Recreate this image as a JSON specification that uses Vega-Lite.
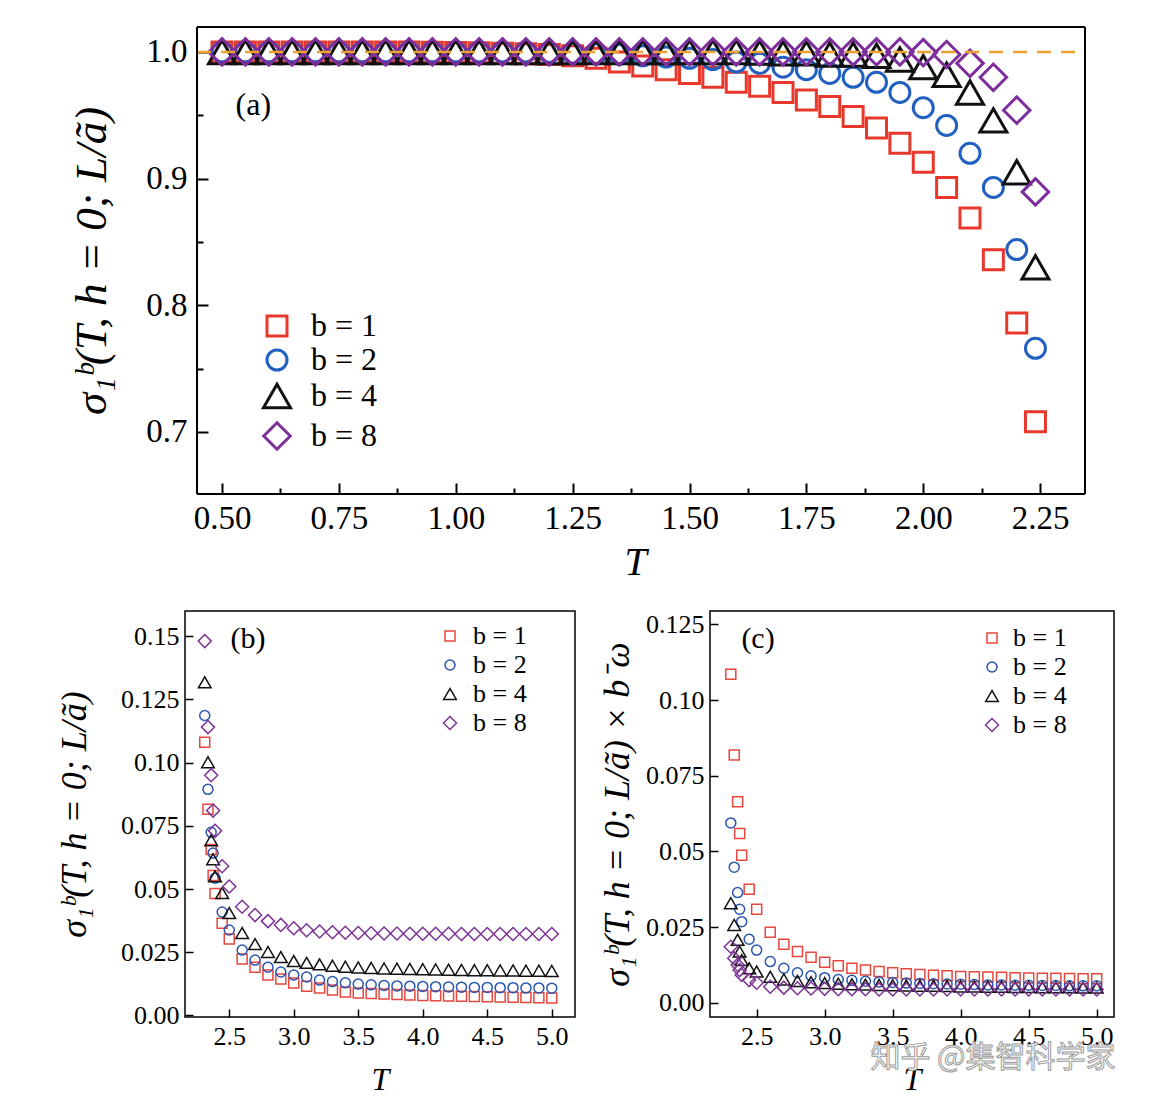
{
"$schema": "https://vega.github.io/schema/vega-lite/v6.json",
"background": "white",
"padding": {"left": 55, "top": 26, "right": 0, "bottom": 0},
"columns": 1,
"align": "none",
"spacing": 28,
"resolve": {"scale": {"color": "independent", "shape": "independent", "size": "independent"}, "legend": {"color": "independent", "shape": "independent", "size": "independent"}},
"config": {
  "axis": {"labelFont": "Liberation Serif", "titleFont": "Liberation Serif", "titleFontStyle": "italic", "titleFontWeight": "normal", "labelColor": "black", "titleColor": "black", "tickColor": "black", "domain": false, "grid": false, "labelFlush": false, "labelOverlap": false},
  "legend": {"labelFont": "Liberation Serif", "labelColor": "black", "title": null, "padding": 0}
},
"datasets": {
"a": [
{"T":0.5,"b":1,"s":1},{"T":0.55,"b":1,"s":1},{"T":0.6,"b":1,"s":1},{"T":0.65,"b":1,"s":1},{"T":0.7,"b":1,"s":1},{"T":0.75,"b":1,"s":1},{"T":0.8,"b":1,"s":1},{"T":0.85,"b":1,"s":1},{"T":0.9,"b":1,"s":1},{"T":0.95,"b":1,"s":0.9998},{"T":1.0,"b":1,"s":0.9996},{"T":1.05,"b":1,"s":0.9993},{"T":1.1,"b":1,"s":0.999},{"T":1.15,"b":1,"s":0.9985},{"T":1.2,"b":1,"s":0.998},{"T":1.25,"b":1,"s":0.997},{"T":1.3,"b":1,"s":0.995},{"T":1.35,"b":1,"s":0.992},{"T":1.4,"b":1,"s":0.989},{"T":1.45,"b":1,"s":0.986},{"T":1.5,"b":1,"s":0.983},{"T":1.55,"b":1,"s":0.98},{"T":1.6,"b":1,"s":0.976},{"T":1.65,"b":1,"s":0.973},{"T":1.7,"b":1,"s":0.968},{"T":1.75,"b":1,"s":0.962},{"T":1.8,"b":1,"s":0.957},{"T":1.85,"b":1,"s":0.949},{"T":1.9,"b":1,"s":0.94},{"T":1.95,"b":1,"s":0.928},{"T":2.0,"b":1,"s":0.913},{"T":2.05,"b":1,"s":0.893},{"T":2.1,"b":1,"s":0.869},{"T":2.15,"b":1,"s":0.836},{"T":2.2,"b":1,"s":0.786},{"T":2.24,"b":1,"s":0.708},
{"T":0.5,"b":2,"s":1},{"T":0.55,"b":2,"s":1},{"T":0.6,"b":2,"s":1},{"T":0.65,"b":2,"s":1},{"T":0.7,"b":2,"s":1},{"T":0.75,"b":2,"s":1},{"T":0.8,"b":2,"s":1},{"T":0.85,"b":2,"s":1},{"T":0.9,"b":2,"s":1},{"T":0.95,"b":2,"s":1},{"T":1.0,"b":2,"s":1},{"T":1.05,"b":2,"s":1},{"T":1.1,"b":2,"s":1},{"T":1.15,"b":2,"s":1},{"T":1.2,"b":2,"s":0.9995},{"T":1.25,"b":2,"s":0.999},{"T":1.3,"b":2,"s":0.9985},{"T":1.35,"b":2,"s":0.998},{"T":1.4,"b":2,"s":0.997},{"T":1.45,"b":2,"s":0.996},{"T":1.5,"b":2,"s":0.995},{"T":1.55,"b":2,"s":0.994},{"T":1.6,"b":2,"s":0.992},{"T":1.65,"b":2,"s":0.991},{"T":1.7,"b":2,"s":0.988},{"T":1.75,"b":2,"s":0.986},{"T":1.8,"b":2,"s":0.983},{"T":1.85,"b":2,"s":0.98},{"T":1.9,"b":2,"s":0.976},{"T":1.95,"b":2,"s":0.968},{"T":2.0,"b":2,"s":0.956},{"T":2.05,"b":2,"s":0.942},{"T":2.1,"b":2,"s":0.92},{"T":2.15,"b":2,"s":0.893},{"T":2.2,"b":2,"s":0.844},{"T":2.24,"b":2,"s":0.766},
{"T":0.5,"b":4,"s":1},{"T":0.55,"b":4,"s":1},{"T":0.6,"b":4,"s":1},{"T":0.65,"b":4,"s":1},{"T":0.7,"b":4,"s":1},{"T":0.75,"b":4,"s":1},{"T":0.8,"b":4,"s":1},{"T":0.85,"b":4,"s":1},{"T":0.9,"b":4,"s":1},{"T":0.95,"b":4,"s":1},{"T":1.0,"b":4,"s":1},{"T":1.05,"b":4,"s":1},{"T":1.1,"b":4,"s":1},{"T":1.15,"b":4,"s":1},{"T":1.2,"b":4,"s":1},{"T":1.25,"b":4,"s":1},{"T":1.3,"b":4,"s":1},{"T":1.35,"b":4,"s":1},{"T":1.4,"b":4,"s":1},{"T":1.45,"b":4,"s":1},{"T":1.5,"b":4,"s":1},{"T":1.55,"b":4,"s":1},{"T":1.6,"b":4,"s":1},{"T":1.65,"b":4,"s":0.9995},{"T":1.7,"b":4,"s":0.999},{"T":1.75,"b":4,"s":0.999},{"T":1.8,"b":4,"s":0.998},{"T":1.85,"b":4,"s":0.998},{"T":1.9,"b":4,"s":0.997},{"T":1.95,"b":4,"s":0.994},{"T":2.0,"b":4,"s":0.988},{"T":2.05,"b":4,"s":0.982},{"T":2.1,"b":4,"s":0.968},{"T":2.15,"b":4,"s":0.946},{"T":2.2,"b":4,"s":0.905},{"T":2.24,"b":4,"s":0.83},
{"T":0.5,"b":8,"s":1},{"T":0.55,"b":8,"s":1},{"T":0.6,"b":8,"s":1},{"T":0.65,"b":8,"s":1},{"T":0.7,"b":8,"s":1},{"T":0.75,"b":8,"s":1},{"T":0.8,"b":8,"s":1},{"T":0.85,"b":8,"s":1},{"T":0.9,"b":8,"s":1},{"T":0.95,"b":8,"s":1},{"T":1.0,"b":8,"s":1},{"T":1.05,"b":8,"s":1},{"T":1.1,"b":8,"s":1},{"T":1.15,"b":8,"s":1},{"T":1.2,"b":8,"s":1},{"T":1.25,"b":8,"s":1},{"T":1.3,"b":8,"s":1},{"T":1.35,"b":8,"s":1},{"T":1.4,"b":8,"s":1},{"T":1.45,"b":8,"s":1},{"T":1.5,"b":8,"s":1},{"T":1.55,"b":8,"s":1},{"T":1.6,"b":8,"s":1},{"T":1.65,"b":8,"s":1},{"T":1.7,"b":8,"s":1},{"T":1.75,"b":8,"s":1},{"T":1.8,"b":8,"s":1},{"T":1.85,"b":8,"s":1},{"T":1.9,"b":8,"s":1},{"T":1.95,"b":8,"s":1},{"T":2.0,"b":8,"s":0.9995},{"T":2.05,"b":8,"s":0.998},{"T":2.1,"b":8,"s":0.991},{"T":2.15,"b":8,"s":0.98},{"T":2.2,"b":8,"s":0.954},{"T":2.24,"b":8,"s":0.8895}
],
"b": [
{"T":2.31,"b":1,"s":0.108},{"T":2.335,"b":1,"s":0.0815},{"T":2.36,"b":1,"s":0.0656},{"T":2.375,"b":1,"s":0.0553},{"T":2.39,"b":1,"s":0.0482},{"T":2.445,"b":1,"s":0.0365},{"T":2.5,"b":1,"s":0.0302},{"T":2.6,"b":1,"s":0.0223},{"T":2.7,"b":1,"s":0.0191},{"T":2.8,"b":1,"s":0.016},{"T":2.9,"b":1,"s":0.0144},{"T":3.0,"b":1,"s":0.0128},{"T":3.1,"b":1,"s":0.0116},{"T":3.2,"b":1,"s":0.0109},{"T":3.3,"b":1,"s":0.0101},{"T":3.4,"b":1,"s":0.0093},{"T":3.5,"b":1,"s":0.0089},{"T":3.6,"b":1,"s":0.0087},{"T":3.7,"b":1,"s":0.0085},{"T":3.8,"b":1,"s":0.0083},{"T":3.9,"b":1,"s":0.0081},{"T":4.0,"b":1,"s":0.0079},{"T":4.1,"b":1,"s":0.0078},{"T":4.2,"b":1,"s":0.0077},{"T":4.3,"b":1,"s":0.0076},{"T":4.4,"b":1,"s":0.0075},{"T":4.5,"b":1,"s":0.0074},{"T":4.6,"b":1,"s":0.0073},{"T":4.7,"b":1,"s":0.0072},{"T":4.8,"b":1,"s":0.0071},{"T":4.9,"b":1,"s":0.007},{"T":5.0,"b":1,"s":0.0069},
{"T":2.31,"b":2,"s":0.1186},{"T":2.335,"b":2,"s":0.0894},{"T":2.36,"b":2,"s":0.0724},{"T":2.375,"b":2,"s":0.0642},{"T":2.39,"b":2,"s":0.0543},{"T":2.445,"b":2,"s":0.0409},{"T":2.5,"b":2,"s":0.0338},{"T":2.6,"b":2,"s":0.0259},{"T":2.7,"b":2,"s":0.0219},{"T":2.8,"b":2,"s":0.0191},{"T":2.9,"b":2,"s":0.0172},{"T":3.0,"b":2,"s":0.016},{"T":3.1,"b":2,"s":0.0152},{"T":3.2,"b":2,"s":0.014},{"T":3.3,"b":2,"s":0.0134},{"T":3.4,"b":2,"s":0.0129},{"T":3.5,"b":2,"s":0.0124},{"T":3.6,"b":2,"s":0.0121},{"T":3.7,"b":2,"s":0.0119},{"T":3.8,"b":2,"s":0.0117},{"T":3.9,"b":2,"s":0.0116},{"T":4.0,"b":2,"s":0.0115},{"T":4.1,"b":2,"s":0.0114},{"T":4.2,"b":2,"s":0.0113},{"T":4.3,"b":2,"s":0.0112},{"T":4.4,"b":2,"s":0.0111},{"T":4.5,"b":2,"s":0.0111},{"T":4.6,"b":2,"s":0.011},{"T":4.7,"b":2,"s":0.011},{"T":4.8,"b":2,"s":0.0109},{"T":4.9,"b":2,"s":0.0109},{"T":5.0,"b":2,"s":0.0108},
{"T":2.31,"b":4,"s":0.1317},{"T":2.335,"b":4,"s":0.1001},{"T":2.36,"b":4,"s":0.0693},{"T":2.375,"b":4,"s":0.0618},{"T":2.39,"b":4,"s":0.055},{"T":2.445,"b":4,"s":0.0484},{"T":2.5,"b":4,"s":0.0405},{"T":2.6,"b":4,"s":0.0326},{"T":2.7,"b":4,"s":0.0282},{"T":2.8,"b":4,"s":0.0251},{"T":2.9,"b":4,"s":0.0231},{"T":3.0,"b":4,"s":0.0215},{"T":3.1,"b":4,"s":0.0208},{"T":3.2,"b":4,"s":0.0202},{"T":3.3,"b":4,"s":0.0197},{"T":3.4,"b":4,"s":0.0193},{"T":3.5,"b":4,"s":0.019},{"T":3.6,"b":4,"s":0.0188},{"T":3.7,"b":4,"s":0.0186},{"T":3.8,"b":4,"s":0.0185},{"T":3.9,"b":4,"s":0.0184},{"T":4.0,"b":4,"s":0.0183},{"T":4.1,"b":4,"s":0.0182},{"T":4.2,"b":4,"s":0.0181},{"T":4.3,"b":4,"s":0.018},{"T":4.4,"b":4,"s":0.0179},{"T":4.5,"b":4,"s":0.0179},{"T":4.6,"b":4,"s":0.0178},{"T":4.7,"b":4,"s":0.0178},{"T":4.8,"b":4,"s":0.0177},{"T":4.9,"b":4,"s":0.0177},{"T":5.0,"b":4,"s":0.0176},
{"T":2.31,"b":8,"s":0.148},{"T":2.335,"b":8,"s":0.114},{"T":2.36,"b":8,"s":0.095},{"T":2.375,"b":8,"s":0.081},{"T":2.39,"b":8,"s":0.073},{"T":2.445,"b":8,"s":0.059},{"T":2.5,"b":8,"s":0.051},{"T":2.6,"b":8,"s":0.043},{"T":2.7,"b":8,"s":0.0397},{"T":2.8,"b":8,"s":0.0373},{"T":2.9,"b":8,"s":0.0358},{"T":3.0,"b":8,"s":0.0345},{"T":3.1,"b":8,"s":0.0337},{"T":3.2,"b":8,"s":0.0332},{"T":3.3,"b":8,"s":0.0329},{"T":3.4,"b":8,"s":0.0327},{"T":3.5,"b":8,"s":0.0326},{"T":3.6,"b":8,"s":0.0325},{"T":3.7,"b":8,"s":0.0324},{"T":3.8,"b":8,"s":0.0324},{"T":3.9,"b":8,"s":0.0323},{"T":4.0,"b":8,"s":0.0323},{"T":4.1,"b":8,"s":0.0323},{"T":4.2,"b":8,"s":0.0323},{"T":4.3,"b":8,"s":0.0322},{"T":4.4,"b":8,"s":0.0322},{"T":4.5,"b":8,"s":0.0322},{"T":4.6,"b":8,"s":0.0322},{"T":4.7,"b":8,"s":0.0322},{"T":4.8,"b":8,"s":0.0322},{"T":4.9,"b":8,"s":0.0322},{"T":5.0,"b":8,"s":0.0322}
],
"c": [
{"T":2.31,"b":1,"s":0.1085},{"T":2.335,"b":1,"s":0.0818},{"T":2.36,"b":1,"s":0.0664},{"T":2.375,"b":1,"s":0.0559},{"T":2.39,"b":1,"s":0.0487},{"T":2.445,"b":1,"s":0.0375},{"T":2.5,"b":1,"s":0.0309},{"T":2.6,"b":1,"s":0.0233},{"T":2.7,"b":1,"s":0.0193},{"T":2.8,"b":1,"s":0.0169},{"T":2.9,"b":1,"s":0.015},{"T":3.0,"b":1,"s":0.0134},{"T":3.1,"b":1,"s":0.0122},{"T":3.2,"b":1,"s":0.0114},{"T":3.3,"b":1,"s":0.0108},{"T":3.4,"b":1,"s":0.0103},{"T":3.5,"b":1,"s":0.0099},{"T":3.6,"b":1,"s":0.0096},{"T":3.7,"b":1,"s":0.0093},{"T":3.8,"b":1,"s":0.0091},{"T":3.9,"b":1,"s":0.0089},{"T":4.0,"b":1,"s":0.0087},{"T":4.1,"b":1,"s":0.0086},{"T":4.2,"b":1,"s":0.0085},{"T":4.3,"b":1,"s":0.0084},{"T":4.4,"b":1,"s":0.0083},{"T":4.5,"b":1,"s":0.0082},{"T":4.6,"b":1,"s":0.0081},{"T":4.7,"b":1,"s":0.0081},{"T":4.8,"b":1,"s":0.008},{"T":4.9,"b":1,"s":0.0079},{"T":5.0,"b":1,"s":0.0079},
{"T":2.31,"b":2,"s":0.0594},{"T":2.335,"b":2,"s":0.0448},{"T":2.36,"b":2,"s":0.0364},{"T":2.375,"b":2,"s":0.0309},{"T":2.39,"b":2,"s":0.0268},{"T":2.445,"b":2,"s":0.021},{"T":2.5,"b":2,"s":0.0174},{"T":2.6,"b":2,"s":0.0136},{"T":2.7,"b":2,"s":0.0114},{"T":2.8,"b":2,"s":0.0099},{"T":2.9,"b":2,"s":0.0089},{"T":3.0,"b":2,"s":0.0083},{"T":3.1,"b":2,"s":0.0077},{"T":3.2,"b":2,"s":0.0074},{"T":3.3,"b":2,"s":0.0071},{"T":3.4,"b":2,"s":0.0069},{"T":3.5,"b":2,"s":0.0067},{"T":3.6,"b":2,"s":0.0065},{"T":3.7,"b":2,"s":0.0064},{"T":3.8,"b":2,"s":0.0063},{"T":3.9,"b":2,"s":0.0062},{"T":4.0,"b":2,"s":0.0061},{"T":4.1,"b":2,"s":0.006},{"T":4.2,"b":2,"s":0.0059},{"T":4.3,"b":2,"s":0.0059},{"T":4.4,"b":2,"s":0.0058},{"T":4.5,"b":2,"s":0.0058},{"T":4.6,"b":2,"s":0.0057},{"T":4.7,"b":2,"s":0.0057},{"T":4.8,"b":2,"s":0.0056},{"T":4.9,"b":2,"s":0.0056},{"T":5.0,"b":2,"s":0.0056},
{"T":2.31,"b":4,"s":0.0329},{"T":2.335,"b":4,"s":0.0257},{"T":2.36,"b":4,"s":0.0208},{"T":2.375,"b":4,"s":0.0169},{"T":2.39,"b":4,"s":0.0141},{"T":2.445,"b":4,"s":0.0114},{"T":2.5,"b":4,"s":0.0103},{"T":2.6,"b":4,"s":0.0086},{"T":2.7,"b":4,"s":0.0077},{"T":2.8,"b":4,"s":0.0072},{"T":2.9,"b":4,"s":0.0068},{"T":3.0,"b":4,"s":0.0065},{"T":3.1,"b":4,"s":0.0063},{"T":3.2,"b":4,"s":0.0061},{"T":3.3,"b":4,"s":0.006},{"T":3.4,"b":4,"s":0.0059},{"T":3.5,"b":4,"s":0.0058},{"T":3.6,"b":4,"s":0.0057},{"T":3.7,"b":4,"s":0.0056},{"T":3.8,"b":4,"s":0.0056},{"T":3.9,"b":4,"s":0.0055},{"T":4.0,"b":4,"s":0.0054},{"T":4.1,"b":4,"s":0.0054},{"T":4.2,"b":4,"s":0.0053},{"T":4.3,"b":4,"s":0.0053},{"T":4.4,"b":4,"s":0.0052},{"T":4.5,"b":4,"s":0.0052},{"T":4.6,"b":4,"s":0.0051},{"T":4.7,"b":4,"s":0.0051},{"T":4.8,"b":4,"s":0.0051},{"T":4.9,"b":4,"s":0.005},{"T":5.0,"b":4,"s":0.005},
{"T":2.31,"b":8,"s":0.0185},{"T":2.335,"b":8,"s":0.0147},{"T":2.36,"b":8,"s":0.0125},{"T":2.375,"b":8,"s":0.0108},{"T":2.39,"b":8,"s":0.0092},{"T":2.445,"b":8,"s":0.0075},{"T":2.5,"b":8,"s":0.0066},{"T":2.6,"b":8,"s":0.0053},{"T":2.7,"b":8,"s":0.005},{"T":2.8,"b":8,"s":0.0048},{"T":2.9,"b":8,"s":0.0047},{"T":3.0,"b":8,"s":0.0046},{"T":3.1,"b":8,"s":0.0045},{"T":3.2,"b":8,"s":0.0045},{"T":3.3,"b":8,"s":0.0045},{"T":3.4,"b":8,"s":0.0044},{"T":3.5,"b":8,"s":0.0044},{"T":3.6,"b":8,"s":0.0044},{"T":3.7,"b":8,"s":0.0044},{"T":3.8,"b":8,"s":0.0044},{"T":3.9,"b":8,"s":0.0044},{"T":4.0,"b":8,"s":0.0044},{"T":4.1,"b":8,"s":0.0044},{"T":4.2,"b":8,"s":0.0044},{"T":4.3,"b":8,"s":0.0044},{"T":4.4,"b":8,"s":0.0044},{"T":4.5,"b":8,"s":0.0044},{"T":4.6,"b":8,"s":0.0044},{"T":4.7,"b":8,"s":0.0044},{"T":4.8,"b":8,"s":0.0044},{"T":4.9,"b":8,"s":0.0044},{"T":5.0,"b":8,"s":0.0044}
]
},
"concat": [
{
  "width": 900, "height": 467,
  "view": {"stroke": null},
  "layer": [
    {
      "data": {"name": "a"},
      "mark": {"type": "point", "filled": false, "strokeWidth": 3, "opacity": 1},
      "encoding": {
        "x": {"field": "T", "type": "quantitative", "scale": {"domain": [0.4208, 2.346], "nice": false, "zero": false},
          "axis": {"values": [0.5,0.625,0.75,0.875,1,1.125,1.25,1.375,1.5,1.625,1.75,1.875,2,2.125,2.25],
            "format": ".2f",
            "labelExpr": "datum.value % 0.25 === 0 ? datum.label : ''",
            "tickSize": {"condition": {"test": "datum.value % 0.25 === 0", "value": -11}, "value": -6},
            "tickWidth": 2, "labelFontSize": 33, "labelPadding": 19, "title": "T", "titleFontSize": 40, "titlePadding": 2}},
        "y": {"field": "s", "type": "quantitative", "scale": {"domain": [0.651, 1.0197], "nice": false, "zero": false},
          "axis": {"values": [0.7,0.75,0.8,0.85,0.9,0.95,1], "offset": -12,
            "labelExpr": "abs(datum.value*10-round(datum.value*10))<0.001 ? format(datum.value,'.1f') : ''",
            "tickSize": {"condition": {"test": "abs(datum.value*10-round(datum.value*10))<0.001", "value": -11}, "value": -6},
            "tickWidth": 2, "labelFontSize": 33, "labelPadding": 21, "title": "σ₁ᵇ(T,  h  =  0;  L/ã)", "titleFontSize": 45, "titlePadding": 31}},
        "color": {"field": "b", "type": "ordinal", "scale": {"domain": [1,2,4,8], "range": ["#e8382c", "#2160c0", "#111111", "#7e2e9c"]},
          "legend": {"orient": "none", "legendX": 76, "legendY": 283, "labelExpr": "'b = ' + datum.label", "labelFontSize": 32, "symbolStrokeWidth": 3, "symbolSize": 480, "rowPadding": 2, "labelOffset": 18}},
        "shape": {"field": "b", "type": "ordinal", "scale": {"domain": [1,2,4,8], "range": ["square", "circle", "triangle-up", "diamond"]}},
        "size": {"field": "b", "type": "ordinal", "legend": null, "scale": {"type": "ordinal", "domain": [1,2,4,8], "range": [400, 400, 730, 700]}}
      }
    },
    {
      "data": {"values": [{"s": 1}]},
      "mark": {"type": "rule", "strokeDash": [14, 10], "strokeWidth": 2.5, "color": "#f0a030"},
      "encoding": {"y": {"field": "s", "type": "quantitative"}, "x": {"datum": 0.4465}, "x2": {"datum": 2.346}}
    },
    {
      "data": {"values": [{}]},
      "mark": {"type": "rule", "strokeWidth": 2, "color": "black"},
      "encoding": {"x": {"datum": 0.4465}}
    },
    {
      "data": {"values": [{}]},
      "mark": {"type": "rule", "strokeWidth": 2, "color": "black"},
      "encoding": {"x": {"datum": 2.346}}
    },
    {
      "data": {"values": [{}]},
      "mark": {"type": "rule", "strokeWidth": 2, "color": "black"},
      "encoding": {"y": {"datum": 1.0197}, "x": {"datum": 0.4465}, "x2": {"datum": 2.346}}
    },
    {
      "data": {"values": [{}]},
      "mark": {"type": "rule", "strokeWidth": 2, "color": "black"},
      "encoding": {"y": {"datum": 0.651}, "x": {"datum": 0.4465}, "x2": {"datum": 2.346}}
    },
    {
      "data": {"values": [{}]},
      "mark": {"type": "text", "font": "Liberation Serif", "fontSize": 32, "align": "center", "baseline": "middle", "color": "black"},
      "encoding": {"x": {"datum": 0.567}, "y": {"datum": 0.958}, "text": {"value": "(a)"}}
    }
  ]
},
{
  "spacing": 22,
  "resolve": {"scale": {"color": "independent", "shape": "independent", "size": "independent"}, "legend": {"color": "independent", "shape": "independent", "size": "independent"}},
  "hconcat": [
    {
      "width": 390, "height": 406,
      "view": {"stroke": "black", "strokeWidth": 1.5},
      "layer": [
        {
          "data": {"name": "b"},
          "mark": {"type": "point", "filled": false, "strokeWidth": 1.5, "opacity": 1},
          "encoding": {
            "x": {"field": "T", "type": "quantitative", "scale": {"domain": [2.157, 5.18], "nice": false, "zero": false},
              "axis": {"values": [2.5,3,3.5,4,4.5,5],
                "format": ".1f",
                "tickSize": -8,
                "tickWidth": 1.5, "labelFontSize": 26, "labelPadding": 14, "title": "T", "titleFontSize": 32, "titlePadding": 15}},
            "y": {"field": "s", "type": "quantitative", "scale": {"domain": [-0.0006, 0.1599], "nice": false, "zero": false},
              "axis": {"values": [0,0.025,0.05,0.075,0.1,0.125,0.15],
                "labelExpr": "round(datum.value*1000) % 50 == 0 ? format(datum.value,'.2f') : format(datum.value,'.3f')",
                "tickSize": -8, "tickWidth": 1.5, "labelFontSize": 26, "labelPadding": 14, "title": "σ₁ᵇ(T,  h  =  0;  L/ã)", "titleFontSize": 36, "titlePadding": 27}},
            "color": {"field": "b", "type": "ordinal", "scale": {"domain": [1,2,4,8], "range": ["#e8473e", "#2a55b0", "#111111", "#7d3394"]},
              "legend": {"orient": "none", "legendX": 252, "legendY": 12, "labelExpr": "'b = ' + datum.label", "labelFontSize": 26, "symbolStrokeWidth": 1.5, "rowPadding": 3, "labelOffset": 10}},
            "shape": {"field": "b", "type": "ordinal", "scale": {"domain": [1,2,4,8], "range": ["square", "circle", "triangle-up", "diamond"]}},
            "size": {"field": "b", "type": "ordinal", "scale": {"type": "ordinal", "domain": [1,2,4,8], "range": [100, 100, 160, 170]}}
          }
        },
        {
          "data": {"values": [{}]},
          "mark": {"type": "text", "font": "Liberation Serif", "fontSize": 30, "align": "center", "baseline": "middle", "color": "black"},
          "encoding": {"x": {"datum": 2.646}, "y": {"datum": 0.149}, "text": {"value": "(b)"}}
        }
      ]
    },
    {
      "width": 404, "height": 406,
      "view": {"stroke": "black", "strokeWidth": 1.5},
      "layer": [
        {
          "data": {"name": "c"},
          "mark": {"type": "point", "filled": false, "strokeWidth": 1.5, "opacity": 1},
          "encoding": {
            "x": {"field": "T", "type": "quantitative", "scale": {"domain": [2.157, 5.127], "nice": false, "zero": false},
              "axis": {"values": [2.5,3,3.5,4,4.5,5],
                "format": ".1f",
                "tickSize": -8,
                "tickWidth": 1.5, "labelFontSize": 26, "labelPadding": 14, "title": "T", "titleFontSize": 32, "titlePadding": 15}},
            "y": {"field": "s", "type": "quantitative", "scale": {"domain": [-0.0047, 0.1294], "nice": false, "zero": false},
              "axis": {"values": [0,0.025,0.05,0.075,0.1,0.125],
                "labelExpr": "round(datum.value*1000) % 50 == 0 ? format(datum.value,'.2f') : format(datum.value,'.3f')",
                "tickSize": -8, "tickWidth": 1.5, "labelFontSize": 26, "labelPadding": 14, "title": "σ₁ᵇ(T, h = 0; L/ã) × b⁻ω", "titleFontSize": 36, "titlePadding": 9}},
            "color": {"field": "b", "type": "ordinal", "scale": {"domain": [1,2,4,8], "range": ["#e8473e", "#2a55b0", "#111111", "#7d3394"]},
              "legend": {"orient": "none", "legendX": 269, "legendY": 14, "labelExpr": "'b = ' + datum.label", "labelFontSize": 26, "symbolStrokeWidth": 1.5, "rowPadding": 3, "labelOffset": 8}},
            "shape": {"field": "b", "type": "ordinal", "scale": {"domain": [1,2,4,8], "range": ["square", "circle", "triangle-up", "diamond"]}},
            "size": {"field": "b", "type": "ordinal", "scale": {"type": "ordinal", "domain": [1,2,4,8], "range": [100, 100, 160, 170]}}
          }
        },
        {
          "data": {"values": [{}]},
          "mark": {"type": "text", "font": "Liberation Serif", "fontSize": 30, "align": "center", "baseline": "middle", "color": "black"},
          "encoding": {"x": {"datum": 2.51}, "y": {"datum": 0.12}, "text": {"value": "(c)"}}
        },
        {
          "data": {"values": [{}]},
          "mark": {"type": "text", "font": "Noto Sans CJK SC", "fontSize": 30, "align": "center", "baseline": "middle", "color": "#ffffff", "stroke": "#9a9a9a", "strokeWidth": 1},
          "encoding": {"x": {"datum": 4.237}, "y": {"datum": -0.0183}, "text": {"value": "知乎 @集智科学家"}}
        }
      ]
    }
  ]
}
]
}
